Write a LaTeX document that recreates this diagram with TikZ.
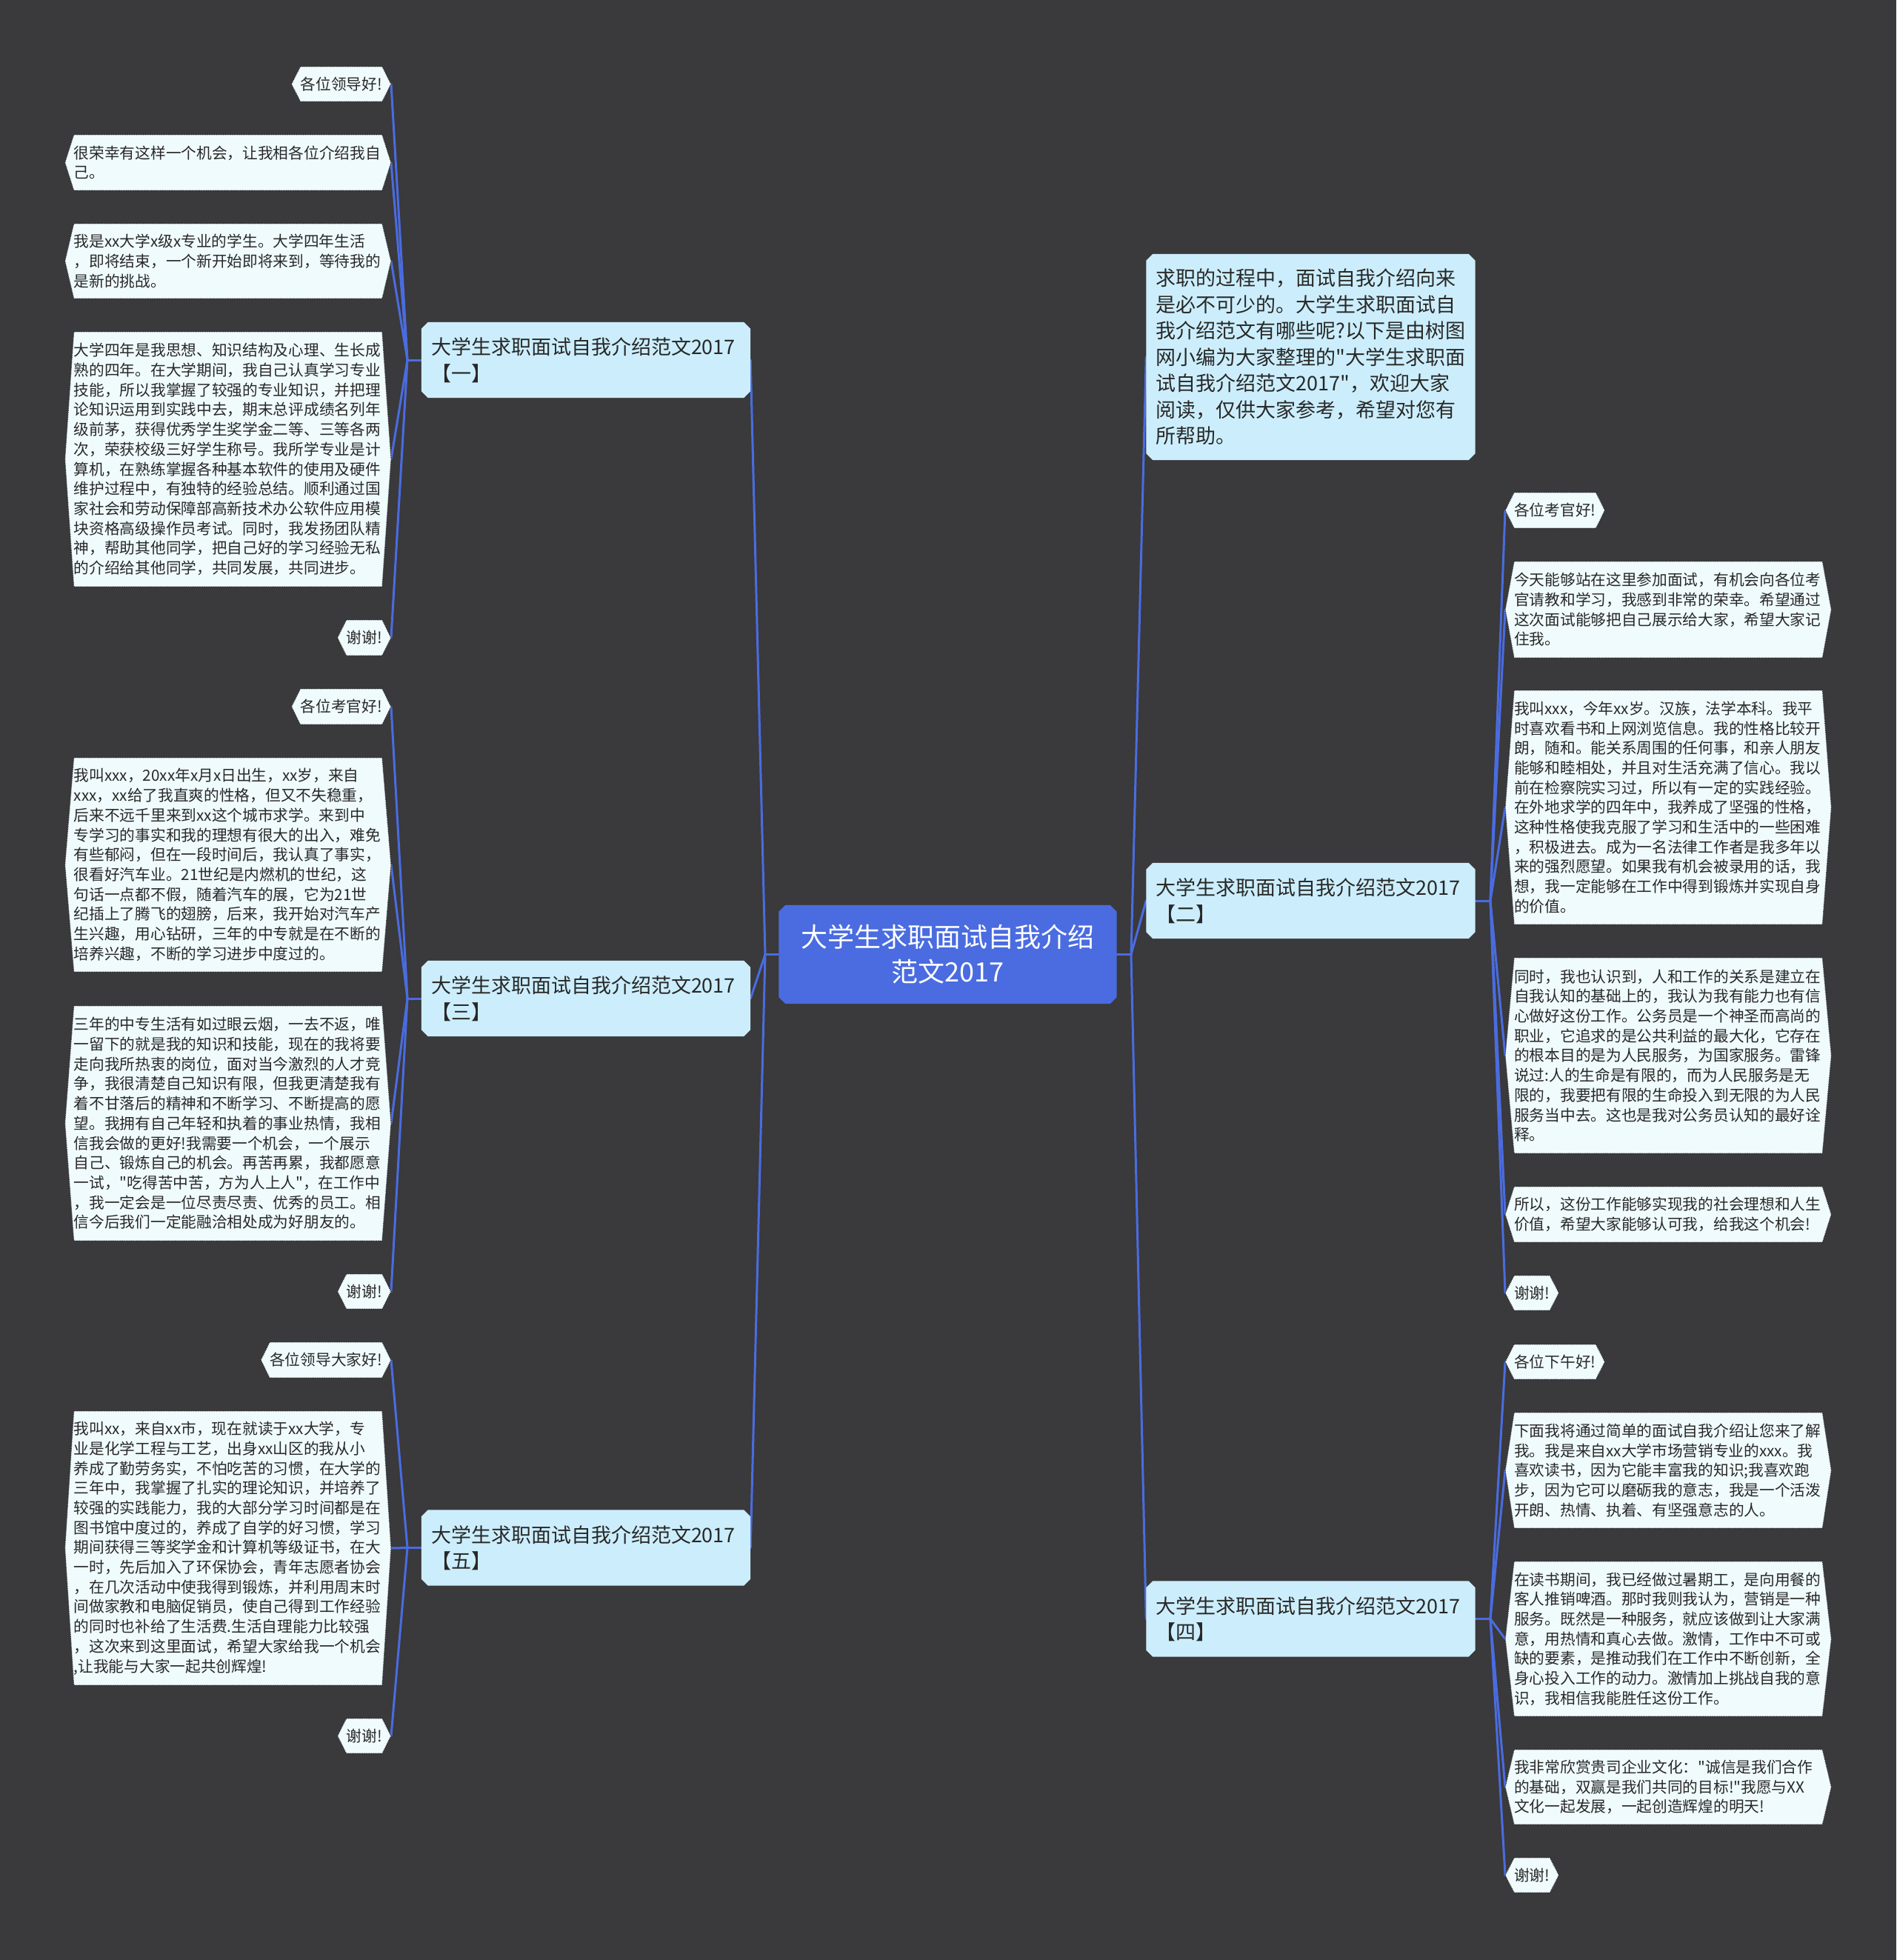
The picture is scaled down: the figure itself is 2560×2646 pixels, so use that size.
\documentclass[tikz,border=0pt]{standalone}
\usepackage{fontspec}
\newfontfamily\cjk{Noto Sans CJK SC}
\definecolor{bgc}{RGB}{58,57,59}
\definecolor{rootc}{RGB}{74,108,224}
\definecolor{l1c}{RGB}{204,238,252}
\definecolor{leafc}{RGB}{240,251,254}
\definecolor{linec}{RGB}{74,108,224}
\definecolor{txt}{RGB}{40,40,40}
\pgfdeclarelayer{bglayer}
\pgfdeclarelayer{edgelayer}
\pgfdeclarelayer{shapelayer}
\pgfsetlayers{bglayer,edgelayer,shapelayer,main}
\tikzset{
 conn/.style={draw=linec, line width=3pt, line cap=round},
 leaf/.style={inner xsep=12pt, inner ysep=2pt, align=left, text=txt, font=\cjk\fontsize{20.7}{26.7}\selectfont},
 wide/.style={text width=416pt},
 leafshape/.style={fill=leafc, draw=black!85, line width=1.2pt, dash pattern=on 1.2pt off 1.2pt},
 lone/.style={text width=418pt, inner xsep=13pt, minimum height=102pt, align=left, text=txt, font=\cjk\fontsize{27}{35.5}\selectfont},
 loneshape/.style={fill=l1c},
 rootnode/.style={minimum width=456pt, minimum height=133pt, align=center, text=white, font=\cjk\fontsize{36}{47}\selectfont},
 rootshape/.style={fill=rootc},
}
\newcommand\chamf[2]{\path[#2] ([xshift=9pt]#1.north west) -- ([xshift=-9pt]#1.north east) -- ([yshift=-9pt]#1.north east) -- ([yshift=9pt]#1.south east) -- ([xshift=-9pt]#1.south east) -- ([xshift=9pt]#1.south west) -- ([yshift=9pt]#1.south west) -- ([yshift=-9pt]#1.north west) -- cycle;}
\newcommand\hexa[1]{\path[leafshape] ([xshift=12pt]#1.north west) -- ([xshift=-12pt]#1.north east) -- (#1.east) -- ([xshift=-12pt]#1.south east) -- ([xshift=12pt]#1.south west) -- (#1.west) -- cycle;}
\newcommand\leafL[5]{\node[leaf, anchor=east, #4] (#1) at (528,#3) {#5};
 \begin{pgfonlayer}{shapelayer}\hexa{#1}\end{pgfonlayer}
 \begin{pgfonlayer}{edgelayer}\draw[conn] (#2) -- (#1.east);\end{pgfonlayer}}
\newcommand\leafR[5]{\node[leaf, anchor=west, #4] (#1) at (2032,#3) {#5};
 \begin{pgfonlayer}{shapelayer}\hexa{#1}\end{pgfonlayer}
 \begin{pgfonlayer}{edgelayer}\draw[conn] (#2) -- (#1.west);\end{pgfonlayer}}
\begin{document}
\begin{tikzpicture}[x=1pt,y=-1pt]
\begin{pgfonlayer}{bglayer}
\fill[bgc] (0,0) rectangle (2560,2646);
\end{pgfonlayer}
\useasboundingbox (0,0) rectangle (2560,2646);

% root
\node[rootnode] (root) at (1279.5,1288.5) {大学生求职面试自我介绍\\范文2017};
\coordinate (cl) at (1033,1288.5);
\coordinate (cr) at (1527,1288.5);

% level 1
\node[lone] (n1) at (791,486) {大学生求职面试自我介绍范文2017\\【一】};
\node[lone] (n3) at (791,1348) {大学生求职面试自我介绍范文2017\\【三】};
\node[lone] (n5) at (791,2089.5) {大学生求职面试自我介绍范文2017\\【五】};
\node[lone, minimum height=278pt] (intro) at (1769.5,482) {求职的过程中，面试自我介绍向来\\是必不可少的。大学生求职面试自\\我介绍范文有哪些呢?以下是由树图\\网小编为大家整理的"大学生求职面\\试自我介绍范文2017"，欢迎大家\\阅读，仅供大家参考，希望对您有\\所帮助。};
\node[lone] (n2) at (1769.5,1216) {大学生求职面试自我介绍范文2017\\【二】};
\node[lone] (n4) at (1769.5,2185.5) {大学生求职面试自我介绍范文2017\\【四】};

\begin{pgfonlayer}{shapelayer}
\chamf{root}{rootshape}
\chamf{n1}{loneshape}\chamf{n3}{loneshape}\chamf{n5}{loneshape}
\chamf{intro}{loneshape}\chamf{n2}{loneshape}\chamf{n4}{loneshape}
\end{pgfonlayer}

\coordinate (j1) at (550,486);
\coordinate (j3) at (550,1348);
\coordinate (j5) at (550,2089.5);
\coordinate (j2) at (2012,1216);
\coordinate (j4) at (2012,2185.5);

\begin{pgfonlayer}{edgelayer}
\draw[conn] (root.west) -- (cl);
\draw[conn] (root.east) -- (cr);
\draw[conn] (cl) -- (n1.east);
\draw[conn] (cl) -- (n3.east);
\draw[conn] (cl) -- (n5.east);
\draw[conn] (cr) -- (intro.west);
\draw[conn] (cr) -- (n2.west);
\draw[conn] (cr) -- (n4.west);
\draw[conn] (n1.west) -- (j1);
\draw[conn] (n3.west) -- (j3);
\draw[conn] (n5.west) -- (j5);
\draw[conn] (n2.east) -- (j2);
\draw[conn] (n4.east) -- (j4);
\end{pgfonlayer}

% group 1
\leafL{a1}{j1}{113.5}{minimum height=47pt}{各位领导好!}
\leafL{a2}{j1}{219.5}{minimum height=75pt, wide}{很荣幸有这样一个机会，让我相各位介绍我自\\己。}
\leafL{a3}{j1}{352.5}{minimum height=101pt, wide}{我是xx大学x级x专业的学生。大学四年生活\\，即将结束，一个新开始即将来到，等待我的\\是新的挑战。}
\leafL{a4}{j1}{620}{minimum height=344pt, wide}{大学四年是我思想、知识结构及心理、生长成\\熟的四年。在大学期间，我自己认真学习专业\\技能，所以我掌握了较强的专业知识，并把理\\论知识运用到实践中去，期末总评成绩名列年\\级前茅，获得优秀学生奖学金二等、三等各两\\次，荣获校级三好学生称号。我所学专业是计\\算机，在熟练掌握各种基本软件的使用及硬件\\维护过程中，有独特的经验总结。顺利通过国\\家社会和劳动保障部高新技术办公软件应用模\\块资格高级操作员考试。同时，我发扬团队精\\神，帮助其他同学，把自己好的学习经验无私\\的介绍给其他同学，共同发展，共同进步。}
\leafL{a5}{j1}{861}{minimum height=48pt}{谢谢!}

% group 3
\leafL{c1}{j3}{954}{minimum height=48pt}{各位考官好!}
\leafL{c2}{j3}{1167.5}{minimum height=289pt, wide}{我叫xxx，20xx年x月x日出生，xx岁，来自\\xxx，xx给了我直爽的性格，但又不失稳重，\\后来不远千里来到xx这个城市求学。来到中\\专学习的事实和我的理想有很大的出入，难免\\有些郁闷，但在一段时间后，我认真了事实，\\很看好汽车业。21世纪是内燃机的世纪，这\\句话一点都不假，随着汽车的展，它为21世\\纪插上了腾飞的翅膀，后来，我开始对汽车产\\生兴趣，用心钻研，三年的中专就是在不断的\\培养兴趣，不断的学习进步中度过的。}
\leafL{c3}{j3}{1516.5}{minimum height=317pt, wide}{三年的中专生活有如过眼云烟，一去不返，唯\\一留下的就是我的知识和技能，现在的我将要\\走向我所热衷的岗位，面对当今激烈的人才竞\\争，我很清楚自己知识有限，但我更清楚我有\\着不甘落后的精神和不断学习、不断提高的愿\\望。我拥有自己年轻和执着的事业热情，我相\\信我会做的更好!我需要一个机会，一个展示\\自己、锻炼自己的机会。再苦再累，我都愿意\\一试，"吃得苦中苦，方为人上人"，在工作中\\，我一定会是一位尽责尽责、优秀的员工。相\\信今后我们一定能融洽相处成为好朋友的。}
\leafL{c4}{j3}{1743.5}{minimum height=47pt}{谢谢!}

% group 5
\leafL{e1}{j5}{1836}{minimum height=48pt}{各位领导大家好!}
\leafL{e2}{j5}{2090}{minimum height=370pt, wide}{我叫xx，来自xx市，现在就读于xx大学，专\\业是化学工程与工艺，出身xx山区的我从小\\养成了勤劳务实，不怕吃苦的习惯，在大学的\\三年中，我掌握了扎实的理论知识，并培养了\\较强的实践能力，我的大部分学习时间都是在\\图书馆中度过的，养成了自学的好习惯，学习\\期间获得三等奖学金和计算机等级证书，在大\\一时，先后加入了环保协会，青年志愿者协会\\，在几次活动中使我得到锻炼，并利用周末时\\间做家教和电脑促销员，使自己得到工作经验\\的同时也补给了生活费.生活自理能力比较强\\，这次来到这里面试，希望大家给我一个机会\\,让我能与大家一起共创辉煌!}
\leafL{e3}{j5}{2343.5}{minimum height=47pt}{谢谢!}

% group 2
\leafR{b1}{j2}{689}{minimum height=48pt}{各位考官好!}
\leafR{b2}{j2}{823}{minimum height=130pt, wide}{今天能够站在这里参加面试，有机会向各位考\\官请教和学习，我感到非常的荣幸。希望通过\\这次面试能够把自己展示给大家，希望大家记\\住我。}
\leafR{b3}{j2}{1090}{minimum height=316pt, wide}{我叫xxx，今年xx岁。汉族，法学本科。我平\\时喜欢看书和上网浏览信息。我的性格比较开\\朗，随和。能关系周围的任何事，和亲人朋友\\能够和睦相处，并且对生活充满了信心。我以\\前在检察院实习过，所以有一定的实践经验。\\在外地求学的四年中，我养成了坚强的性格，\\这种性格使我克服了学习和生活中的一些困难\\，积极进去。成为一名法律工作者是我多年以\\来的强烈愿望。如果我有机会被录用的话，我\\想，我一定能够在工作中得到锻炼并实现自身\\的价值。}
\leafR{b4}{j2}{1425}{minimum height=264pt, wide}{同时，我也认识到，人和工作的关系是建立在\\自我认知的基础上的，我认为我有能力也有信\\心做好这份工作。公务员是一个神圣而高尚的\\职业，它追求的是公共利益的最大化，它存在\\的根本目的是为人民服务，为国家服务。雷锋\\说过:人的生命是有限的，而为人民服务是无\\限的，我要把有限的生命投入到无限的为人民\\服务当中去。这也是我对公务员认知的最好诠\\释。}
\leafR{b5}{j2}{1639.5}{minimum height=75pt, wide}{所以，这份工作能够实现我的社会理想和人生\\价值，希望大家能够认可我，给我这个机会!}
\leafR{b6}{j2}{1745.5}{minimum height=47pt}{谢谢!}

% group 4
\leafR{d1}{j4}{1838.5}{minimum height=47pt}{各位下午好!}
\leafR{d2}{j4}{1985}{minimum height=156pt, wide}{下面我将通过简单的面试自我介绍让您来了解\\我。我是来自xx大学市场营销专业的xxx。我\\喜欢读书，因为它能丰富我的知识;我喜欢跑\\步，因为它可以磨砺我的意志，我是一个活泼\\开朗、热情、执着、有坚强意志的人。}
\leafR{d3}{j4}{2212.5}{minimum height=209pt, wide}{在读书期间，我已经做过暑期工，是向用餐的\\客人推销啤酒。那时我则我认为，营销是一种\\服务。既然是一种服务，就应该做到让大家满\\意，用热情和真心去做。激情，工作中不可或\\缺的要素，是推动我们在工作中不断创新，全\\身心投入工作的动力。激情加上挑战自我的意\\识，我相信我能胜任这份工作。}
\leafR{d4}{j4}{2412.5}{minimum height=101pt, wide}{我非常欣赏贵司企业文化："诚信是我们合作\\的基础，双赢是我们共同的目标!"我愿与XX\\文化一起发展，一起创造辉煌的明天!}
\leafR{d5}{j4}{2531.5}{minimum height=47pt}{谢谢!}
\end{tikzpicture}
\end{document}
